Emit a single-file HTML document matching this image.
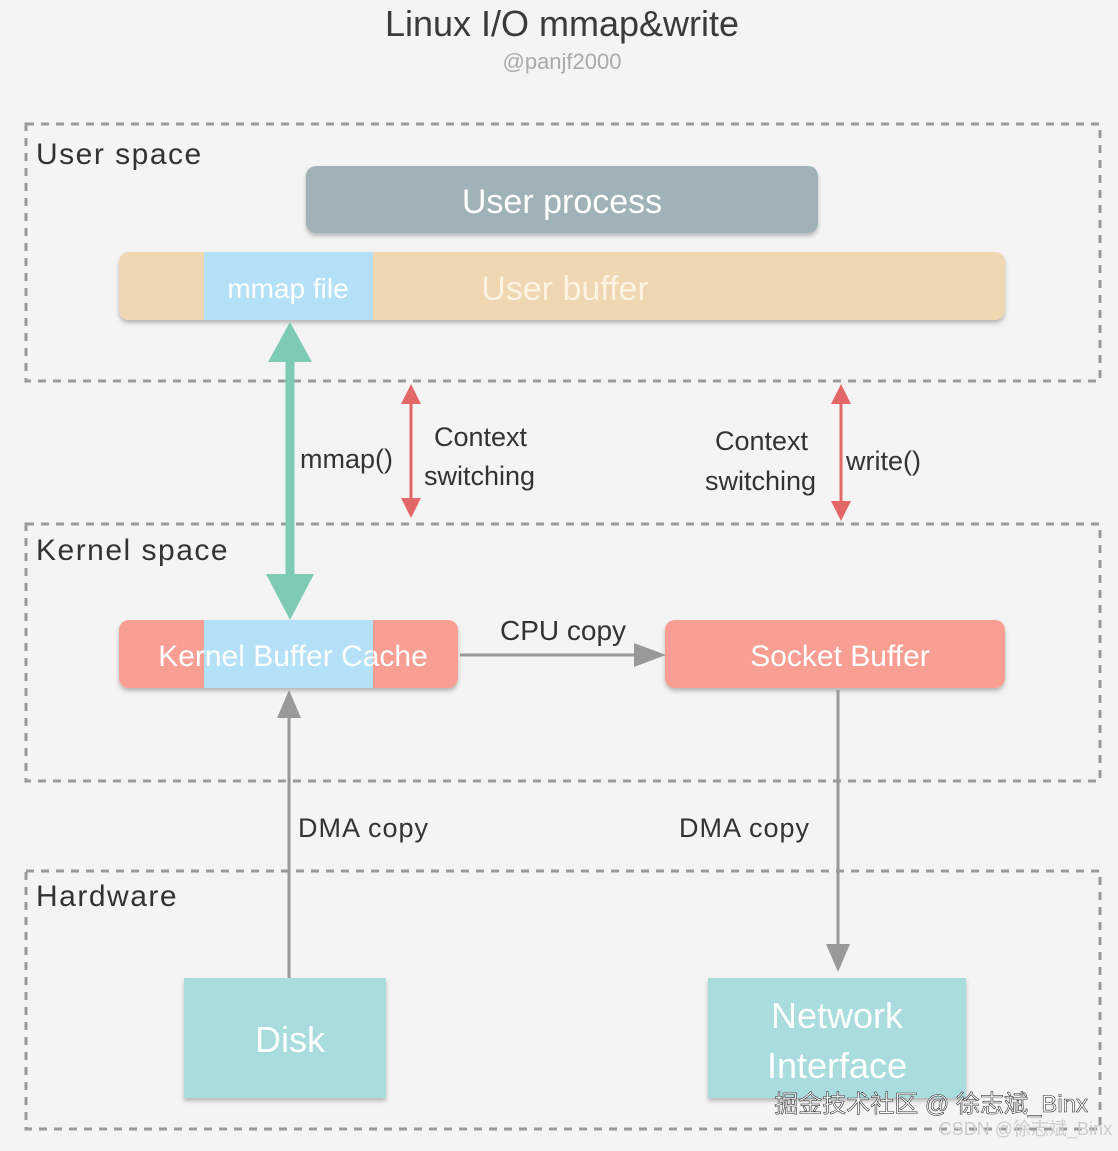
<!DOCTYPE html>
<html><head><meta charset="utf-8"><style>
body{margin:0;width:1118px;height:1146px;background:#f4f4f4;overflow:hidden;font-family:"Liberation Sans","Noto Sans CJK SC",sans-serif}
</style></head><body>
<svg width="1118" height="1146" xmlns="http://www.w3.org/2000/svg" font-family="Liberation Sans, Noto Sans CJK SC, sans-serif">
<defs><filter id="s"><feDropShadow dx="0" dy="3" stdDeviation="2" flood-color="#000" flood-opacity="0.25"/></filter></defs>
<text x="562" y="36" font-size="36" fill="#3a3a3a" text-anchor="middle">Linux I/O mmap&amp;write</text>
<text x="562" y="69" font-size="22" fill="#aaa" text-anchor="middle">@panjf2000</text>
<g fill="none" stroke="#9a9a9a" stroke-width="3" stroke-dasharray="8,7">
<rect x="26" y="124" width="1074" height="257"/>
<rect x="26" y="524" width="1074" height="257"/>
<rect x="26" y="871" width="1074" height="258"/>
</g>
<g font-size="30" fill="#333" letter-spacing="1.5">
<text x="36" y="164">User space</text>
<text x="36" y="560">Kernel space</text>
<text x="36" y="906">Hardware</text>
</g>
<rect x="306" y="166" width="512" height="67" rx="10" fill="#a0b1b7" filter="url(#s)"/>
<text x="562" y="213" font-size="34" fill="#fff" text-anchor="middle">User process</text>
<rect x="119" y="252" width="886" height="68" rx="10" fill="#eed7b1" filter="url(#s)"/>
<rect x="204" y="252" width="169" height="68" fill="#b4e1f7"/>
<text x="288" y="298" font-size="28" fill="#fff" text-anchor="middle">mmap file</text>
<text x="565" y="300" font-size="34" fill="#fff8ec" fill-opacity="0.85" text-anchor="middle">User buffer</text>
<line x1="290" y1="355" x2="290" y2="585" stroke="#7ecbb5" stroke-width="9"/>
<polygon points="290,322 268,362 312,362" fill="#7ecbb5"/>
<polygon points="290,620 266,574 314,574" fill="#7ecbb5"/>
<text x="300" y="468" font-size="27" fill="#333">mmap()</text>
<g stroke="#e26868" stroke-width="3" fill="#e26868">
<line x1="411" y1="395" x2="411" y2="508"/>
<polygon points="411,384 401,404 421,404" stroke="none"/>
<polygon points="411,518 401,498 421,498" stroke="none"/>
<line x1="841" y1="395" x2="841" y2="510"/>
<polygon points="841,384 831,404 851,404" stroke="none"/>
<polygon points="841,521 831,501 851,501" stroke="none"/>
</g>
<g font-size="27" fill="#333">
<text x="434" y="446">Context</text>
<text x="424" y="485">switching</text>
<text x="715" y="450">Context</text>
<text x="705" y="490">switching</text>
<text x="846" y="470">write()</text>
</g>
<rect x="119" y="620" width="339" height="68" rx="10" fill="#f89e93" filter="url(#s)"/>
<rect x="204" y="620" width="169" height="68" fill="#b4e1f7"/>
<text x="293" y="666" font-size="30" fill="#fff" text-anchor="middle">Kernel Buffer Cache</text>
<rect x="665" y="620" width="340" height="68" rx="10" fill="#f89e93" filter="url(#s)"/>
<text x="840" y="666" font-size="30" fill="#fff" text-anchor="middle">Socket Buffer</text>
<line x1="460" y1="655" x2="635" y2="655" stroke="#999" stroke-width="3"/>
<polygon points="666,655 634,643 634,667" fill="#999"/>
<text x="563" y="640" font-size="28" fill="#333" text-anchor="middle">CPU copy</text>
<line x1="289" y1="978" x2="289" y2="715" stroke="#999" stroke-width="3"/>
<polygon points="289,690 277,718 301,718" fill="#999"/>
<line x1="838" y1="690" x2="838" y2="945" stroke="#999" stroke-width="3"/>
<polygon points="838,972 826,944 850,944" fill="#999"/>
<text x="298" y="837" font-size="27" fill="#333" letter-spacing="1">DMA copy</text>
<text x="679" y="837" font-size="27" fill="#333" letter-spacing="1">DMA copy</text>
<rect x="184" y="978" width="202" height="120" fill="#a9dcdc" filter="url(#s)"/>
<text x="290" y="1052" font-size="36" fill="#fff" text-anchor="middle">Disk</text>
<rect x="708" y="978" width="258" height="120" fill="#a9dcdc" filter="url(#s)"/>
<text x="837" y="1028" font-size="36" fill="#fff" text-anchor="middle">Network</text>
<text x="837" y="1078" font-size="36" fill="#fff" text-anchor="middle">Interface</text>
<text x="1088" y="1112" font-size="24" fill="#fff" stroke="#333" stroke-width="0.6" text-anchor="end">掘金技术社区 @ 徐志斌_Binx</text>
<text x="1112" y="1135" font-size="18" fill="#ccc" text-anchor="end">CSDN @徐志斌_Binx</text>
</svg>
</body></html>
